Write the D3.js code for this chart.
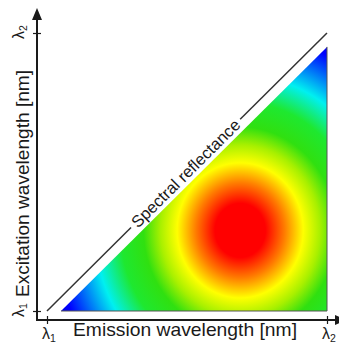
<!DOCTYPE html>
<html>
<head>
<meta charset="utf-8">
<script src="https://cdn.jsdelivr.net/npm/d3@7"></script>
<style>
  body { margin: 0; background: #fff; }
  svg { display: block; font-family: "Liberation Sans", Arial, sans-serif; }
</style>
</head>
<body>
<svg id="chart" width="339" height="348"></svg>
<script>
// axis positions are in units of the scanned range, lambda1 = 0 and lambda2 = 1
const tickValues = [0, 1];
const tickSubs = ["1", "2"];
const xLabel = "Emission wavelength [nm]";
const yLabel = "Excitation wavelength [nm]";
const diagonalLabel = "Spectral reflectance";

// [emission, excitation] corners of the measured (coloured) region
const measuredRegion = [[0.05, 0], [1, 0], [1, 0.95]];
const reflectanceDiagonal = [[0, 0], [1, 1]];

// fluorescence peak: centre and reach of the colour field
const peakCentre = [0.69, 0.29];
const peakReach = [0.75, 0.81];
const levelOffsets = [0, 0.12, 0.21, 0.3, 0.38, 0.46, 0.57, 0.69, 0.88, 1];
const levelColours = ["#ff0000", "#ff0000", "#ff7a00", "#ffff00", "#a8f000",
                      "#30e010", "#1ee830", "#00f0f0", "#0000ff", "#0000b0"];

const svg = d3.select("#chart");
const x = d3.scaleLinear().domain([0, 1]).range([47, 327]);
const y = d3.scaleLinear().domain([0, 1]).range([311, 33]);
const axisY = 320, axisX = 37;
const ink = "#1a1a1a";

const defs = svg.append("defs");
const grad = defs.append("radialGradient")
  .attr("id", "peak")
  .attr("gradientUnits", "userSpaceOnUse")
  .attr("cx", 0).attr("cy", 0).attr("r", 1)
  .attr("gradientTransform", `translate(${x(peakCentre[0])},${y(peakCentre[1])}) scale(${x(peakReach[0]) - x(0)},${y(0) - y(peakReach[1])})`);
grad.selectAll("stop").data(levelOffsets).join("stop")
  .attr("offset", d => d)
  .attr("stop-color", (d, i) => levelColours[i]);

const line = d3.line().x(d => x(d[0])).y(d => y(d[1]));

// coloured region
svg.append("path")
  .attr("d", line(measuredRegion) + "Z")
  .attr("fill", "url(#peak)");
svg.append("path")
  .attr("d", line([measuredRegion[2], measuredRegion[1], measuredRegion[0]]))
  .attr("fill", "none")
  .attr("stroke", "#555")
  .attr("stroke-width", 1);

// diagonal with label on it
const p0 = [x(reflectanceDiagonal[0][0]), y(reflectanceDiagonal[0][1])];
const p1 = [x(reflectanceDiagonal[1][0]), y(reflectanceDiagonal[1][1])];
const ang = Math.atan2(p1[1] - p0[1], p1[0] - p0[0]);
const t = 0.515;
const labelCentre = [p0[0] + (p1[0] - p0[0]) * (t - 0.02), p0[1] + (p1[1] - p0[1]) * (t - 0.02)];
const label = svg.append("text")
  .attr("transform", `translate(${labelCentre[0]},${labelCentre[1]}) rotate(${ang * 180 / Math.PI})`)
  .attr("text-anchor", "middle")
  .attr("dy", "0.35em")
  .attr("font-size", 16.5)
  .attr("fill", ink)
  .text(diagonalLabel);
const half = label.node().getComputedTextLength() / 2 + 4;
const cos = Math.cos(ang), sin = Math.sin(ang);
svg.append("line")
  .attr("x1", p0[0]).attr("y1", p0[1])
  .attr("x2", labelCentre[0] - half * cos).attr("y2", labelCentre[1] - half * sin)
  .attr("stroke", "#333").attr("stroke-width", 1.5);
svg.append("line")
  .attr("x1", labelCentre[0] + half * cos).attr("y1", labelCentre[1] + half * sin)
  .attr("x2", p1[0]).attr("y2", p1[1])
  .attr("stroke", "#333").attr("stroke-width", 1.5);

// axis lines with arrows
svg.append("line").attr("x1", axisX).attr("y1", axisY).attr("x2", 344).attr("y2", axisY)
  .attr("stroke", ink).attr("stroke-width", 2);
svg.append("line").attr("x1", axisX).attr("y1", axisY + 1).attr("x2", axisX).attr("y2", 16)
  .attr("stroke", ink).attr("stroke-width", 2);
svg.append("path").attr("d", `M${axisX},8 L${axisX - 5},20 L${axisX + 5},20 Z`).attr("fill", ink);
svg.append("path").attr("d", `M347,${axisY} L335,${axisY - 5} L335,${axisY + 5} Z`).attr("fill", ink);

// ticks
const gx = svg.append("g").attr("transform", `translate(0,${axisY - 4})`)
  .call(d3.axisBottom(x).tickValues(tickValues).tickSize(8).tickFormat(""));
gx.select(".domain").remove();
gx.selectAll(".tick line").attr("stroke", ink).attr("stroke-width", 1.2);
const gy = svg.append("g").attr("transform", `translate(${axisX + 4},0)`)
  .call(d3.axisLeft(y).tickValues(tickValues).tickSize(8).tickFormat(""));
gy.select(".domain").remove();
gy.selectAll(".tick line").attr("stroke", ink).attr("stroke-width", 1.2);

function lambda(sel, i) {
  sel.append("tspan").text("λ");
  sel.append("tspan").attr("font-size", 10.5).attr("dy", 3).text(tickSubs[i]);
}
tickValues.forEach((v, i) => {
  const tx = svg.append("text")
    .attr("x", x(v) - 5).attr("y", 339)
    .attr("font-size", 16).attr("fill", ink);
  lambda(tx, i);
  const ty = svg.append("text")
    .attr("transform", `translate(24,${y(v) + 6}) rotate(-90)`)
    .attr("font-size", 16).attr("fill", ink);
  lambda(ty, i);
});

// axis titles
svg.append("text")
  .attr("x", 73).attr("y", 336)
  .attr("font-size", 18.5).attr("fill", ink)
  .attr("textLength", 224).attr("lengthAdjust", "spacingAndGlyphs")
  .text(xLabel);
svg.append("text")
  .attr("transform", `translate(29,297) rotate(-90)`)
  .attr("font-size", 18.5).attr("fill", ink)
  .attr("textLength", 227).attr("lengthAdjust", "spacingAndGlyphs")
  .text(yLabel);
</script>
</body>
</html>
